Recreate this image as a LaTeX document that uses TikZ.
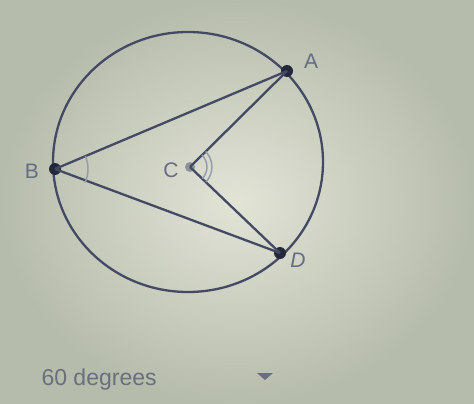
\documentclass[tikz,border=0pt]{standalone}
\usepackage{fontspec}
\setmainfont{Liberation Sans}
\usetikzlibrary{calc}
\definecolor{bgin}{RGB}{226,228,214}
\definecolor{bgout}{RGB}{182,188,172}
\definecolor{ink}{RGB}{68,74,100}
\definecolor{dotc}{RGB}{36,40,58}
\definecolor{cdot}{RGB}{140,146,152}
\definecolor{lab}{RGB}{102,108,130}
\definecolor{marks}{RGB}{150,156,170}
\definecolor{txt}{RGB}{105,111,124}
\tikzset{
  seg/.style={draw=ink, line width=2.3pt},
  pt/.style={circle, fill=dotc, inner sep=0pt, minimum size=12pt},
  cpt/.style={circle, fill=cdot, inner sep=0pt, minimum size=10pt},
  lbl/.style={text=lab, font=\fontsize{21}{21}\selectfont},
  angmark/.style={draw=marks, line width=1.5pt},
}
\begin{document}
\begin{tikzpicture}[x=1pt,y=-1pt]
\useasboundingbox (0,0) rectangle (474,404);
\shade[inner color=bgin, outer color=bgout] (0,0) rectangle (474,404);
% circle
\draw[seg] (188,162) ellipse [x radius=135, y radius=130];
% points
\node[pt] (A) at (287,71) {};
\node[pt] (B) at (55,169) {};
\node[pt] (D) at (280,253) {};
\node[cpt] (C) at (190,167) {};
% segments
\draw[seg] (B.center) -- (A.center);
\draw[seg] (B.center) -- (D.center);
\draw[seg] (C.center) -- (A.center);
\draw[seg] (C.center) -- (D.center);
% angle marks
\draw[angmark] ($(B.center)!33pt!(A.center)$) arc[start angle=22.9, end angle=-24.3, radius=33pt];
\draw[angmark] ($(C.center)!17pt!(A.center)$) arc[start angle=44.4, end angle=-43.4, radius=17pt];
\draw[angmark] ($(C.center)!22pt!(A.center)$) arc[start angle=44.4, end angle=-43.4, radius=22pt];
% labels
\node[lbl] (lA) at (311,61) {A};
\node[lbl] (lB) at (32,171) {B};
\node[lbl] (lC) at (171,170) {C};
\node[lbl, font=\fontsize{21}{21}\selectfont\itshape] (lD) at (298,260) {D};
% answer line
\node[text=txt, font=\fontsize{23}{23}\selectfont, anchor=west] (ans) at (38,380) {60 degrees};
\fill[txt] (257,373) -- (273,373) -- (265,380) -- cycle;
\end{tikzpicture}
\end{document}
